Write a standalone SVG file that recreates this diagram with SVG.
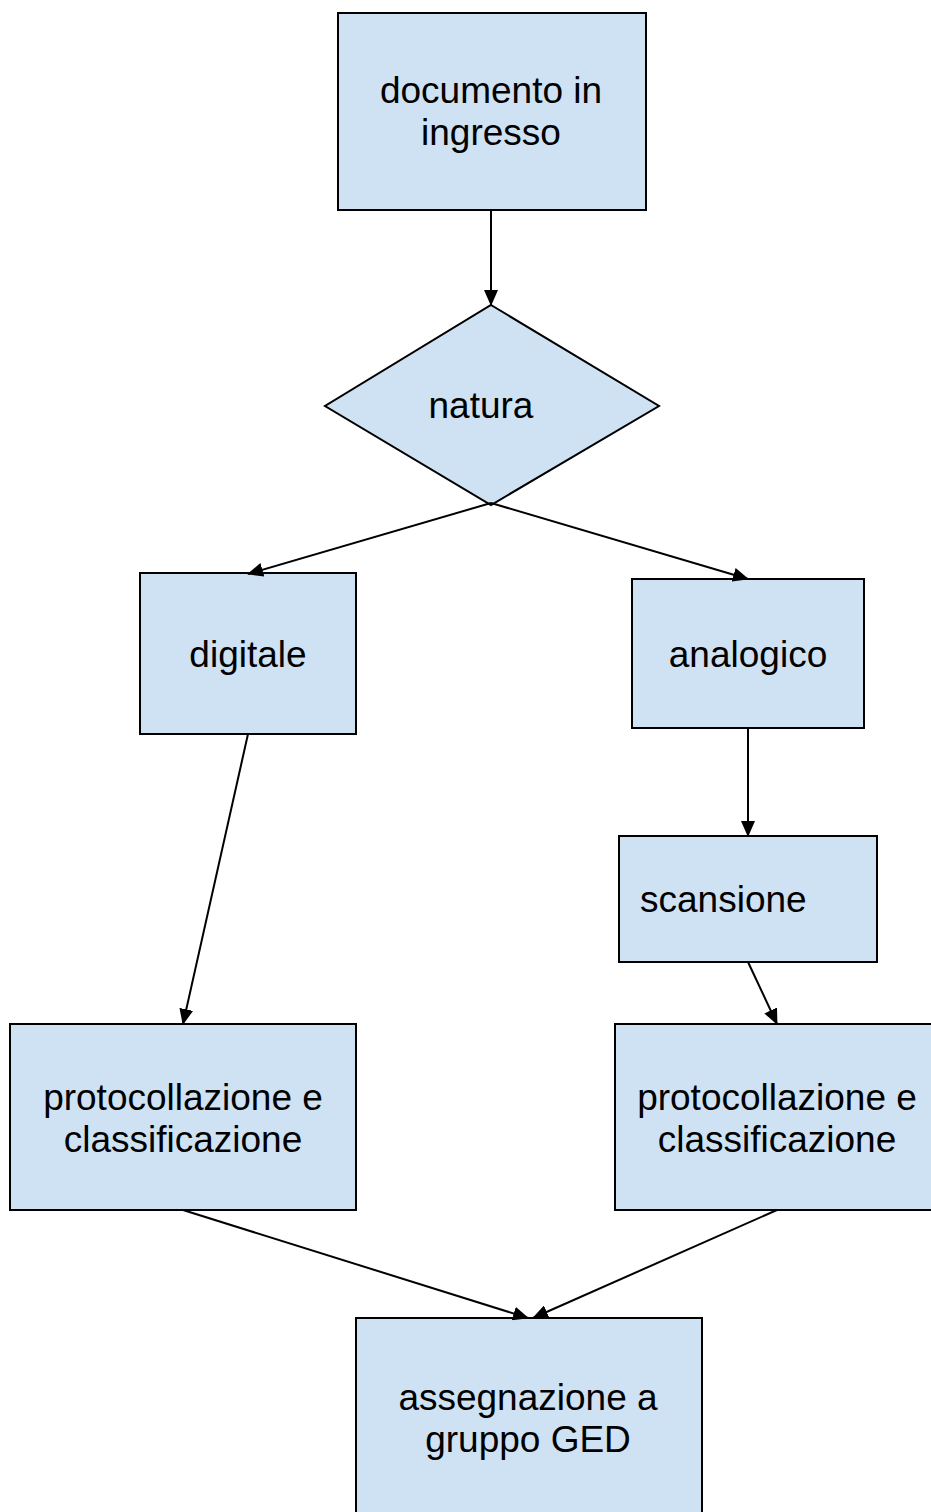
<svg xmlns="http://www.w3.org/2000/svg" width="931" height="1512" viewBox="0 0 931 1512">
<style>
.n{fill:#cfe2f3;stroke:#000;stroke-width:2}
.t{font-family:"Liberation Sans",Arial,sans-serif;font-size:37px;fill:#000}
.c{text-anchor:middle}
.e{fill:none;stroke:#000;stroke-width:2}
</style>
<defs>
<marker id="a" markerUnits="userSpaceOnUse" markerWidth="16" markerHeight="14" refX="15" refY="7" orient="auto">
<path d="M0,0 L16,7 L0,14 Z" fill="#000"/>
</marker>
</defs>
<rect width="931" height="1512" fill="#fff"/>
<g id="n1"><rect class="n" x="338" y="13" width="308" height="197"/>
<text class="t c" x="491" y="103">documento in</text><text class="t c" x="491" y="145">ingresso</text></g>
<g id="n2"><polygon class="n" points="491,305 659,406 491,505 325,406"/>
<text class="t c" x="481" y="418">natura</text></g>
<g id="n3"><rect class="n" x="140" y="573" width="216" height="161"/>
<text class="t c" x="248" y="667">digitale</text></g>
<g id="n4"><rect class="n" x="632" y="579" width="232" height="149"/>
<text class="t c" x="748" y="667">analogico</text></g>
<g id="n5"><rect class="n" x="619" y="836" width="258" height="126"/>
<text class="t" x="640" y="912">scansione</text></g>
<g id="n6"><rect class="n" x="10" y="1024" width="346" height="186"/>
<text class="t c" x="183" y="1110">protocollazione e</text><text class="t c" x="183" y="1152">classificazione</text></g>
<g id="n7"><rect class="n" x="615" y="1024" width="346" height="186"/>
<text class="t c" x="777" y="1110">protocollazione e</text><text class="t c" x="777" y="1152">classificazione</text></g>
<g id="n8"><rect class="n" x="356" y="1318" width="346" height="210"/>
<text class="t c" x="528" y="1410">assegnazione a</text><text class="t c" x="528" y="1452">gruppo GED</text></g>
<g id="edges">
<line class="e" x1="491" y1="210" x2="491" y2="305" marker-end="url(#a)"/>
<line class="e" x1="491" y1="503" x2="248" y2="574" marker-end="url(#a)"/>
<line class="e" x1="491" y1="503" x2="748" y2="579" marker-end="url(#a)"/>
<line class="e" x1="248" y1="734" x2="183" y2="1024" marker-end="url(#a)"/>
<line class="e" x1="748" y1="728" x2="748" y2="836" marker-end="url(#a)"/>
<line class="e" x1="748" y1="962" x2="777" y2="1024" marker-end="url(#a)"/>
<line class="e" x1="183" y1="1210" x2="528" y2="1318" marker-end="url(#a)"/>
<line class="e" x1="777" y1="1210" x2="533" y2="1318" marker-end="url(#a)"/>
</g>
</svg>
